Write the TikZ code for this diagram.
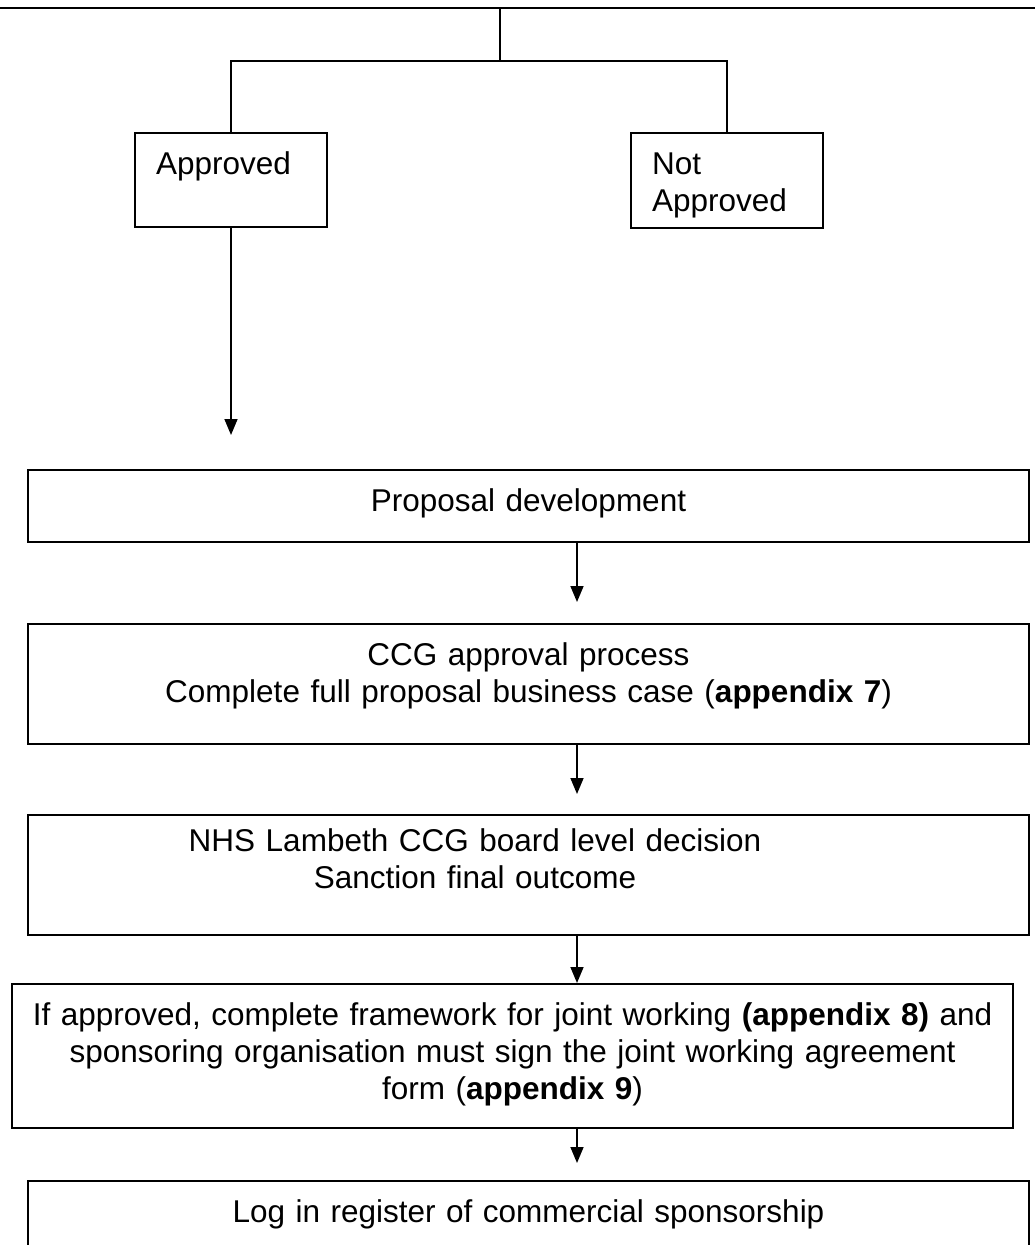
\documentclass[tikz,border=0pt]{standalone}
\usepackage{fontspec}
\setmainfont{Liberation Sans}
\usetikzlibrary{arrows.meta, positioning, calc}

\begin{document}
\begin{tikzpicture}[x=1pt, y=-1pt, >={Triangle[length=16pt, width=13pt]}, font=\fontsize{31.5}{37}\selectfont,
		stepbox/.style={draw, rectangle, line width=2pt, anchor=north, inner xsep=5pt, inner ysep=0pt, text width=991pt, align=center, text height=41pt},
		choice/.style={draw, rectangle, line width=2pt, anchor=north, inner xsep=21pt, inner ysep=0pt, text width=150pt, align=left, text height=41pt},
		link/.style={line width=1.6pt}]
				\useasboundingbox (0, 0) rectangle (1035, 1245);
				
				\node[draw, rectangle, line width=2pt, minimum width=1100pt, minimum height=80pt, anchor=south] (board) at (500, 9) {};
				\coordinate (fork) at (500, 61);
				\node[choice, text depth=53pt] (approved) at (231, 132) {Approved};
				\node[choice, text depth=54pt] (notapp) at (727, 132) {Not\\Approved};
				\coordinate (apptip) at (231, 435);
				\coordinate (spine) at (577, 0);
				
				\node[stepbox, text depth=31pt] (prop) at (528.5, 469) {Proposal development};
				\node[stepbox, text depth=79pt] (ccg) at (528.5, 623) {CCG approval process\\Complete full proposal business case (\textbf{appendix 7})};
				\node[stepbox, text height=36pt, text depth=84pt] (nhs) at (528.5, 814) {NHS Lambeth CCG board level decision\hspace*{107pt}\mbox{}\\Sanction final outcome\hspace*{107pt}\mbox{}};
				\node[stepbox, text depth=103pt] (frame) at (512.5, 983) {If approved, complete framework for joint working \textbf{(appendix 8)} and\\sponsoring organisation must sign the joint working agreement\\form (\textbf{appendix 9})};
				\node[stepbox, text depth=100pt] (log) at (528.5, 1180) {Log in register of commercial sponsorship};
				
				\draw[link] (board.south) -- (fork) (approved.north) |- (fork) -| (notapp.north);
				\draw[link, ->] (approved.south) -- (apptip);
				\draw[link, ->] (prop.south -| spine) -- ($(ccg.north -| spine) + (0, -21)$);
				\draw[link, ->] (ccg.south -| spine) -- ($(nhs.north -| spine) + (0, -20)$);
				\draw[link, ->] (nhs.south -| spine) -- (frame.north -| spine);
				\draw[link, ->] (frame.south -| spine) -- ($(log.north -| spine) + (0, -17)$);
			\end{tikzpicture}
\end{document}
